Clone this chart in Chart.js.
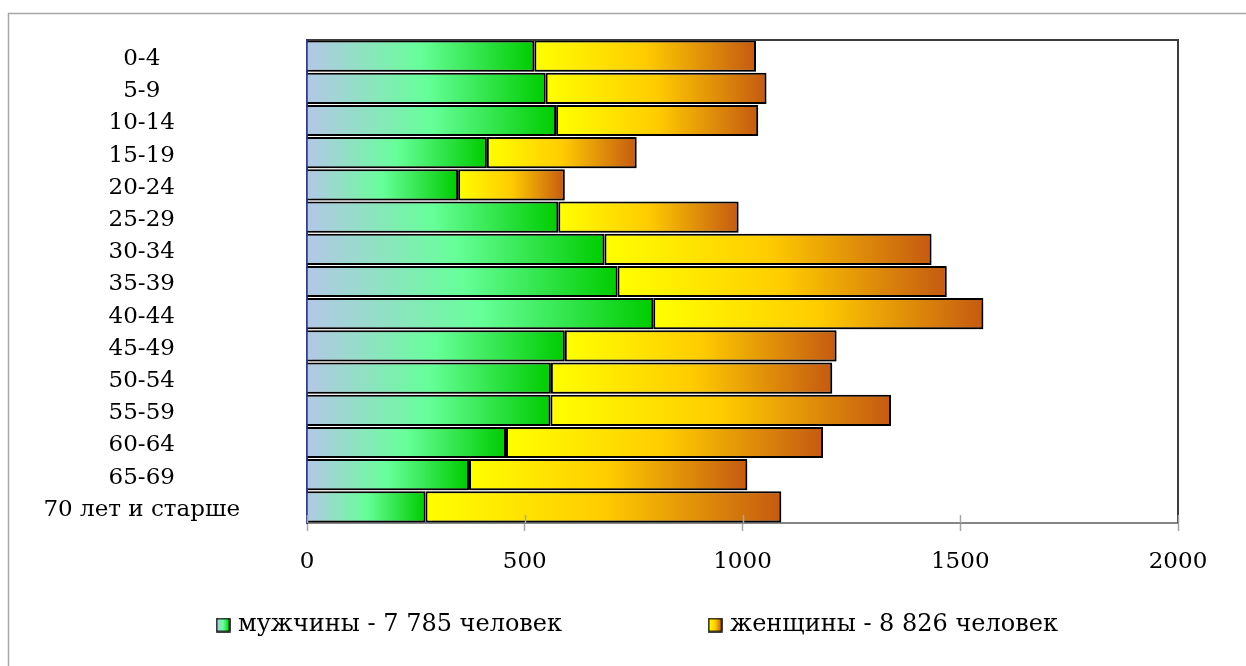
<!DOCTYPE html>
<html lang="ru">
<head>
<meta charset="utf-8">
<title>Возрастно-половой состав населения</title>
<script src="https://cdn.jsdelivr.net/npm/chart.js@4/dist/chart.umd.min.js"></script>
<style>
  html, body { margin: 0; padding: 0; background: #ffffff; }
  canvas { display: block; }
</style>
</head>
<body>
<canvas id="chart" width="1246" height="666"></canvas>
<script>
// Age groups, top to bottom
const ageGroups = ['0-4', '5-9', '10-14', '15-19', '20-24', '25-29', '30-34', '35-39',
                   '40-44', '45-49', '50-54', '55-59', '60-64', '65-69', '70 лет и старше'];
// Number of people in each group
const men   = [522, 548, 572, 413, 347, 577, 683, 713, 795, 592, 560, 559, 457, 372, 272];
const women = [509, 507, 464, 344, 245, 414, 751, 756, 758, 624, 646, 782, 728, 639, 817];
const seriesNames = ['мужчины - 7 785 человек', 'женщины - 8 826 человек'];
// Value axis
const axisMin = 0;
const axisMax = 2000;
const axisStep = 500;

const FONT_FAMILY = "'DejaVu Serif', 'Liberation Serif', serif";
const FONT_SIZE = 23;
const LEGEND_FONT_SIZE = 24;
const MEN_STOPS = [[0, '#b4c7e7'], [0.5, '#66ff99'], [1, '#00cc00']];
const WOMEN_STOPS = [[0, '#ffff00'], [0.5, '#ffcc00'], [1, '#c55a11']];
const LEGEND_PADDING = 150;
const LEGEND_CENTER_X = 639;
const LEGEND_CENTER_Y = 625;

function fillStops(g, stops) {
  stops.forEach(s => g.addColorStop(s[0], s[1]));
  return g;
}

// Horizontal gradient stretched over each bar's own extent
function barFill(stops, startOf, endOf) {
  return function (c) {
    const chart = c.chart;
    const xs = chart.scales && chart.scales.x;
    if (c.type !== 'data' || !chart.chartArea || !xs) return stops[1][1];
    const i = c.dataIndex;
    const x0 = xs.getPixelForValue(startOf(i));
    const x1 = xs.getPixelForValue(endOf(i));
    if (!isFinite(x0) || !isFinite(x1) || x1 <= x0) return stops[1][1];
    return fillStops(chart.ctx.createLinearGradient(x0, 0, x1, 0), stops);
  };
}

function legendMarker(stops) {
  const cv = document.createElement('canvas');
  cv.width = 15; cv.height = 15;
  const g = cv.getContext('2d');
  g.fillStyle = fillStops(g.createLinearGradient(1, 0, 14, 0), stops);
  g.fillRect(1, 1, 13, 13);
  g.strokeStyle = '#000000';
  g.lineWidth = 1.5;
  g.strokeRect(1, 1, 13, 13);
  return cv;
}
const markers = [legendMarker(MEN_STOPS), legendMarker(WOMEN_STOPS)];

// Outer frame, bar shadows, plot edges and tick marks crossing the axis
const decorations = {
  id: 'decorations',
  beforeDraw(chart) {
    const { ctx, width, height } = chart;
    ctx.save();
    ctx.strokeStyle = '#a6a6a6';
    ctx.lineWidth = 1.5;
    ctx.beginPath();
    ctx.moveTo(8.5, height);
    ctx.lineTo(8.5, 13.5);
    ctx.lineTo(width, 13.5);
    ctx.stroke();
    ctx.restore();
  },
  beforeDatasetsDraw(chart) {
    const ctx = chart.ctx;
    ctx.save();
    ctx.shadowColor = 'rgba(0, 0, 0, 0.28)';
    ctx.shadowOffsetX = 1.5;
    ctx.shadowOffsetY = 1.5;
    ctx.shadowBlur = 1.5;
  },
  afterDatasetsDraw(chart) {
    const { ctx, chartArea: a, scales } = chart;
    ctx.restore();
    ctx.save();
    // top and right edges of the plot
    ctx.strokeStyle = '#3c3c3c';
    ctx.lineWidth = 2;
    ctx.beginPath();
    ctx.moveTo(a.left, a.top);
    ctx.lineTo(a.right, a.top);
    ctx.lineTo(a.right, a.bottom);
    ctx.stroke();
    // upper half of the value-axis tick marks
    const xs = scales.x;
    ctx.strokeStyle = '#a6a6a6';
    ctx.lineWidth = 1.5;
    xs.ticks.forEach((t, i) => {
      const px = Math.round(xs.getPixelForTick(i)) + 0.5;
      ctx.beginPath();
      ctx.moveTo(px, a.bottom - 8);
      ctx.lineTo(px, a.bottom);
      ctx.stroke();
    });
    ctx.restore();
  }
};

// Keeps the legend on one row as a short band, centred on (LEGEND_CENTER_X, LEGEND_CENTER_Y)
const legendPlace = {
  id: 'legendPlace',
  afterInit(chart) {
    const lg = chart.legend;
    const fit = lg.fit;
    lg.fit = function () {
      const mw = this.maxWidth;
      this.maxWidth = 4000;
      fit.call(this);
      this.maxWidth = mw;
      this.width = mw;
      this.height = 60;
    };
  },
  afterLayout(chart) {
    const lg = chart.legend;
    lg.left = LEGEND_CENTER_X - 800;
    lg.right = LEGEND_CENTER_X + 800;
    lg.width = 1600;
    lg.top = LEGEND_CENTER_Y - LEGEND_PADDING - LEGEND_FONT_SIZE / 2;
    lg.bottom = chart.height;
    lg.height = lg.bottom - lg.top;
  }
};

new Chart(document.getElementById('chart'), {
  type: 'bar',
  data: {
    labels: ageGroups,
    datasets: [
      {
        label: seriesNames[0],
        data: men,
        backgroundColor: barFill(MEN_STOPS, () => 0, i => men[i]),
        borderColor: '#000000',
        borderWidth: 2,
        borderSkipped: 'start',
        categoryPercentage: 1,
        barPercentage: 0.97
      },
      {
        label: seriesNames[1],
        data: women,
        backgroundColor: barFill(WOMEN_STOPS, i => men[i], i => men[i] + women[i]),
        borderColor: '#000000',
        borderWidth: 2,
        borderSkipped: false,
        categoryPercentage: 1,
        barPercentage: 0.97
      }
    ]
  },
  options: {
    indexAxis: 'y',
    responsive: false,
    animation: false,
    events: [],
    layout: { padding: { top: 40, right: 68, bottom: 0, left: 20 } },
    font: { family: FONT_FAMILY, size: FONT_SIZE },
    color: '#000000',
    scales: {
      x: {
        stacked: true,
        min: axisMin,
        max: axisMax,
        ticks: {
          stepSize: axisStep,
          color: '#000000',
          padding: 17,
          font: { family: FONT_FAMILY, size: FONT_SIZE },
          maxRotation: 0,
          callback: (v) => String(v)
        },
        grid: {
          drawOnChartArea: false,
          drawTicks: true,
          tickLength: 8,
          tickColor: '#a6a6a6',
          tickWidth: 1.5
        },
        border: { display: true, color: '#868686', width: 2 },
        afterFit(scale) { scale.height = 83; }
      },
      y: {
        stacked: true,
        ticks: {
          autoSkip: false,
          color: '#000000',
          crossAlign: 'center',
          padding: 4,
          labelOffset: 3,
          font: { family: FONT_FAMILY, size: FONT_SIZE }
        },
        grid: {
          display: true,
          drawOnChartArea: false,
          drawTicks: true,
          tickLength: 63,
          tickColor: 'rgba(0,0,0,0)'
        },
        border: { display: true, color: '#2e3f82', width: 2 },
        afterFit(scale) { scale.width = 287; }
      }
    },
    plugins: {
      tooltip: { enabled: false },
      legend: {
        display: true,
        position: 'bottom',
        labels: {
          usePointStyle: true,
          pointStyleWidth: 6,
          padding: LEGEND_PADDING,
          color: '#000000',
          font: { family: FONT_FAMILY, size: LEGEND_FONT_SIZE },
          generateLabels: (chart) => chart.data.datasets.map((ds, i) => ({
            text: ds.label,
            pointStyle: markers[i],
            fillStyle: '#000000',
            strokeStyle: '#000000',
            lineWidth: 0,
            fontColor: '#000000',
            hidden: false,
            datasetIndex: i
          }))
        }
      }
    }
  },
  plugins: [decorations, legendPlace]
});
</script>
</body>
</html>
